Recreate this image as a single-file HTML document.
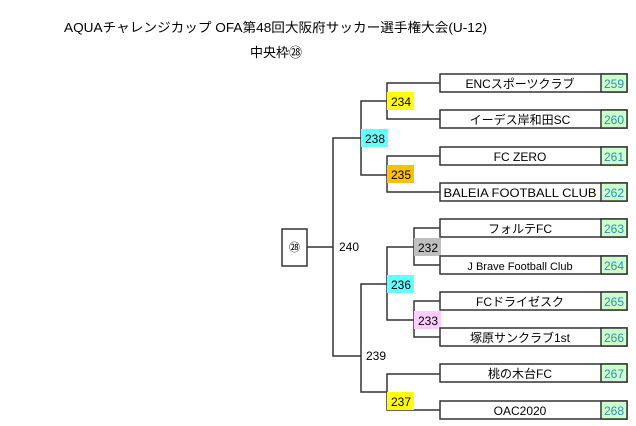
<!DOCTYPE html>
<html><head><meta charset="utf-8"><style>
html,body{margin:0;padding:0;background:#fff;width:636px;height:426px;overflow:hidden}
svg{display:block}
text{font-family:"Liberation Sans","Noto Sans CJK JP",sans-serif;}
</style></head><body>
<svg width="636" height="426" viewBox="0 0 636 426" xmlns="http://www.w3.org/2000/svg">
<g font-size="13" fill="#000">
<text x="64" y="32" textLength="423" lengthAdjust="spacingAndGlyphs">AQUAチャレンジカップ OFA第48回大阪府サッカー選手権大会(U-12)</text>
<text x="250" y="57" textLength="52" lengthAdjust="spacingAndGlyphs">中央枠㉘</text>
</g>
<g stroke="#333" stroke-width="1.5" fill="none">
<polyline points="440,83 387,83 387,119 440,119"/>
<polyline points="440,156 387,156 387,192 440,192"/>
<polyline points="387,101 361,101 361,175 387,175"/>
<polyline points="361,138 333,138 333,356 361,356"/>
<line x1="307" y1="247" x2="333" y2="247"/>
<polyline points="440,228 414,228 414,265 440,265"/>
<polyline points="440,301 414,301 414,337 440,337"/>
<polyline points="414,247 387,247 387,320 414,320"/>
<polyline points="387,284 361,284 361,392 387,392"/>
<polyline points="440,374 387,374 387,410 440,410"/>
</g>
<rect x="282" y="229" width="25" height="37" fill="#fff" stroke="#333" stroke-width="1.5"/>
<text x="294.5" y="251" font-size="11" text-anchor="middle">㉘</text>
<g font-size="12" fill="#000">
<text x="339" y="251">240</text>
<text x="366" y="360">239</text>
</g>
<g font-size="12">
<rect x="387" y="92" width="27" height="18" fill="#ffff00"/><text x="391" y="106">234</text>
<rect x="361" y="129" width="27" height="18" fill="#66ffff"/><text x="365" y="143">238</text>
<rect x="387" y="165" width="27" height="18" fill="#ffc000"/><text x="391" y="179">235</text>
<rect x="414" y="238" width="27" height="18" fill="#bfbfbf"/><text x="418" y="252">232</text>
<rect x="387" y="275" width="27" height="18" fill="#66ffff"/><text x="391" y="289">236</text>
<rect x="414" y="311" width="27" height="18" fill="#ffccff"/><text x="418" y="325">233</text>
<rect x="387" y="392" width="27" height="18" fill="#ffff00"/><text x="391" y="406">237</text>
</g>
<g font-size="12">
<g transform="translate(0,74)"><rect x="440" y="0" width="187" height="18" fill="#fff" stroke="#333" stroke-width="1.5"/><rect x="601" y="0" width="26" height="18" fill="#ccffcc" stroke="#333" stroke-width="1.5"/><text x="520" y="14" text-anchor="middle">ENCスポーツクラブ</text><text x="614" y="14" text-anchor="middle" fill="#2a8fb0">259</text></g>
<g transform="translate(0,110)"><rect x="440" y="0" width="187" height="18" fill="#fff" stroke="#333" stroke-width="1.5"/><rect x="601" y="0" width="26" height="18" fill="#ccffcc" stroke="#333" stroke-width="1.5"/><text x="520" y="14" text-anchor="middle">イーデス岸和田SC</text><text x="614" y="14" text-anchor="middle" fill="#2a8fb0">260</text></g>
<g transform="translate(0,147)"><rect x="440" y="0" width="187" height="18" fill="#fff" stroke="#333" stroke-width="1.5"/><rect x="601" y="0" width="26" height="18" fill="#ccffcc" stroke="#333" stroke-width="1.5"/><text x="520" y="14" text-anchor="middle">FC ZERO</text><text x="614" y="14" text-anchor="middle" fill="#2a8fb0">261</text></g>
<g transform="translate(0,183)"><rect x="440" y="0" width="187" height="18" fill="#fff" stroke="#333" stroke-width="1.5"/><rect x="601" y="0" width="26" height="18" fill="#ccffcc" stroke="#333" stroke-width="1.5"/><text x="520" y="14" text-anchor="middle" textLength="153" lengthAdjust="spacingAndGlyphs">BALEIA FOOTBALL CLUB</text><text x="614" y="14" text-anchor="middle" fill="#2a8fb0">262</text></g>
<g transform="translate(0,219)"><rect x="440" y="0" width="187" height="18" fill="#fff" stroke="#333" stroke-width="1.5"/><rect x="601" y="0" width="26" height="18" fill="#ccffcc" stroke="#333" stroke-width="1.5"/><text x="520" y="14" text-anchor="middle">フォルテFC</text><text x="614" y="14" text-anchor="middle" fill="#2a8fb0">263</text></g>
<g transform="translate(0,256)"><rect x="440" y="0" width="187" height="18" fill="#fff" stroke="#333" stroke-width="1.5"/><rect x="601" y="0" width="26" height="18" fill="#ccffcc" stroke="#333" stroke-width="1.5"/><text x="520" y="14" text-anchor="middle" font-size="11">J Brave Football Club</text><text x="614" y="14" text-anchor="middle" fill="#2a8fb0">264</text></g>
<g transform="translate(0,292)"><rect x="440" y="0" width="187" height="18" fill="#fff" stroke="#333" stroke-width="1.5"/><rect x="601" y="0" width="26" height="18" fill="#ccffcc" stroke="#333" stroke-width="1.5"/><text x="520" y="14" text-anchor="middle">FCドライゼスク</text><text x="614" y="14" text-anchor="middle" fill="#2a8fb0">265</text></g>
<g transform="translate(0,328)"><rect x="440" y="0" width="187" height="18" fill="#fff" stroke="#333" stroke-width="1.5"/><rect x="601" y="0" width="26" height="18" fill="#ccffcc" stroke="#333" stroke-width="1.5"/><text x="520" y="14" text-anchor="middle">塚原サンクラブ1st</text><text x="614" y="14" text-anchor="middle" fill="#2a8fb0">266</text></g>
<g transform="translate(0,364)"><rect x="440" y="0" width="187" height="18" fill="#fff" stroke="#333" stroke-width="1.5"/><rect x="601" y="0" width="26" height="18" fill="#ccffcc" stroke="#333" stroke-width="1.5"/><text x="520" y="14" text-anchor="middle">桃の木台FC</text><text x="614" y="14" text-anchor="middle" fill="#2a8fb0">267</text></g>
<g transform="translate(0,401)"><rect x="440" y="0" width="187" height="18" fill="#fff" stroke="#333" stroke-width="1.5"/><rect x="601" y="0" width="26" height="18" fill="#ccffcc" stroke="#333" stroke-width="1.5"/><text x="520" y="14" text-anchor="middle">OAC2020</text><text x="614" y="14" text-anchor="middle" fill="#2a8fb0">268</text></g>
</g>
</svg>
</body></html>
